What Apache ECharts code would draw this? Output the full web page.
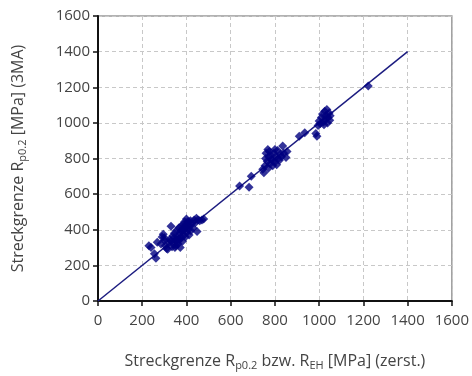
<!DOCTYPE html>
<html>
<head>
<meta charset="utf-8">
<script src="https://cdn.jsdelivr.net/npm/echarts@6/dist/echarts.min.js"></script>
<style>
  html, body { margin: 0; padding: 0; background: #fff; }
  #chart { width: 472px; height: 376px; }
</style>
</head>
<body>
<div id="chart"></div>
<script>
// Streckgrenze: destructive test (x) vs. 3MA estimate (y), MPa
const lowCluster = [
  [230, 310], [240, 300], [255, 265], [262, 240], [268, 330], [285, 320], [295, 375], [300, 355],
  [305, 310], [310, 295], [315, 290], [320, 330], [325, 345], [330, 420], [335, 305], [338, 365],
  [340, 320], [345, 380], [348, 300], [350, 340], [352, 310], [355, 395], [358, 330], [360, 360],
  [362, 320], [365, 410], [368, 345], [370, 380], [372, 300], [375, 420], [378, 355], [380, 390],
  [382, 335], [385, 430], [388, 370], [390, 400], [392, 445], [395, 360], [398, 415], [400, 460],
  [402, 385], [405, 430], [408, 400], [410, 445], [412, 370], [415, 420], [418, 450], [420, 395],
  [425, 435], [430, 410], [435, 455], [440, 440], [445, 465], [448, 390], [452, 455], [460, 450],
  [470, 455], [478, 460], [330, 335], [345, 355], [360, 345], [375, 395], [385, 405], [395, 425],
  [405, 445], [300, 340], [290, 360]
]
const midCluster = [
  [640, 645], [683, 638], [693, 700], [745, 740], [750, 720], [755, 760], [758, 800], [760, 830],
  [765, 785], [768, 850], [770, 745], [772, 810], [775, 840], [778, 770], [780, 820], [785, 795],
  [790, 760], [795, 830], [800, 780], [805, 810], [808, 765], [812, 845], [815, 800], [820, 790],
  [825, 825], [830, 810], [835, 870], [840, 830], [850, 805], [855, 840], [800, 850], [790, 790]
]
const highCluster = [
  [910, 925], [935, 945], [985, 940], [990, 925], [995, 985], [1000, 1010], [1005, 995], [1010, 1030],
  [1015, 1050], [1020, 1005], [1022, 990], [1025, 1065], [1028, 1020], [1030, 1040], [1035, 1075],
  [1038, 1000], [1040, 1030], [1045, 1055], [1048, 1015], [1050, 1040], [1222, 1207]
]
const identityLine = [[0, 0], [1400, 1400]]
const axisTicks = [0, 200, 400, 600, 800, 1000, 1200, 1400, 1600]

const FONT = '"Open Sans", "Noto Sans", sans-serif'
const textColor = '#444'

const chart = echarts.init(document.getElementById('chart'), null, { renderer: 'canvas' })

const subRich = {
  n: { fontFamily: FONT, fontSize: 16, color: textColor },
  s: { fontFamily: FONT, fontSize: 11, color: textColor, padding: [9, 0, 0, 0] }
}

const axisCommon = {
  type: 'value',
  min: axisTicks[0],
  max: axisTicks[axisTicks.length - 1],
  interval: 200,
  axisLine: { show: true, onZero: false, lineStyle: { color: '#111', width: 2 } },
  axisTick: { show: true, inside: false, length: 5, lineStyle: { color: '#111', width: 1.5 } },
  axisLabel: { fontFamily: FONT, fontSize: 15, color: textColor, formatter: v => String(v) },
  splitLine: { show: true, lineStyle: { color: '#c8c8c8', type: [4, 3], width: 1 } },
  nameLocation: 'middle'
}

chart.setOption({
  animation: false,
  grid: {
    left: 98, right: 20, top: 16, bottom: 74,
    show: true, borderColor: '#999', borderWidth: 1.5, backgroundColor: '#fff'
  },
  xAxis: Object.assign({}, axisCommon, {
    name: '{n|Streckgrenze R}{s|p0.2}{n| bzw. R}{s|EH}{n| [MPa] (zerst.)}',
    nameGap: 50,
    nameTextStyle: { rich: subRich },
    axisLabel: Object.assign({}, axisCommon.axisLabel, { margin: 12 })
  }),
  yAxis: Object.assign({}, axisCommon, {
    name: '{n|Streckgrenze R}{s|p0.2}{n| [MPa] (3MA)}',
    nameGap: 70,
    nameTextStyle: { rich: subRich },
    axisLabel: Object.assign({}, axisCommon.axisLabel, { margin: 8 })
  }),
  series: [
    {
      type: 'line',
      data: identityLine,
      showSymbol: false,
      lineStyle: { color: '#1c1c80', width: 1.5 },
      z: 3
    },
    {
      type: 'scatter',
      data: lowCluster.concat(midCluster, highCluster),
      symbol: 'diamond',
      symbolSize: 9,
      itemStyle: { color: '#000080' },
      z: 4
    }
  ]
})
</script>
</body>
</html>
